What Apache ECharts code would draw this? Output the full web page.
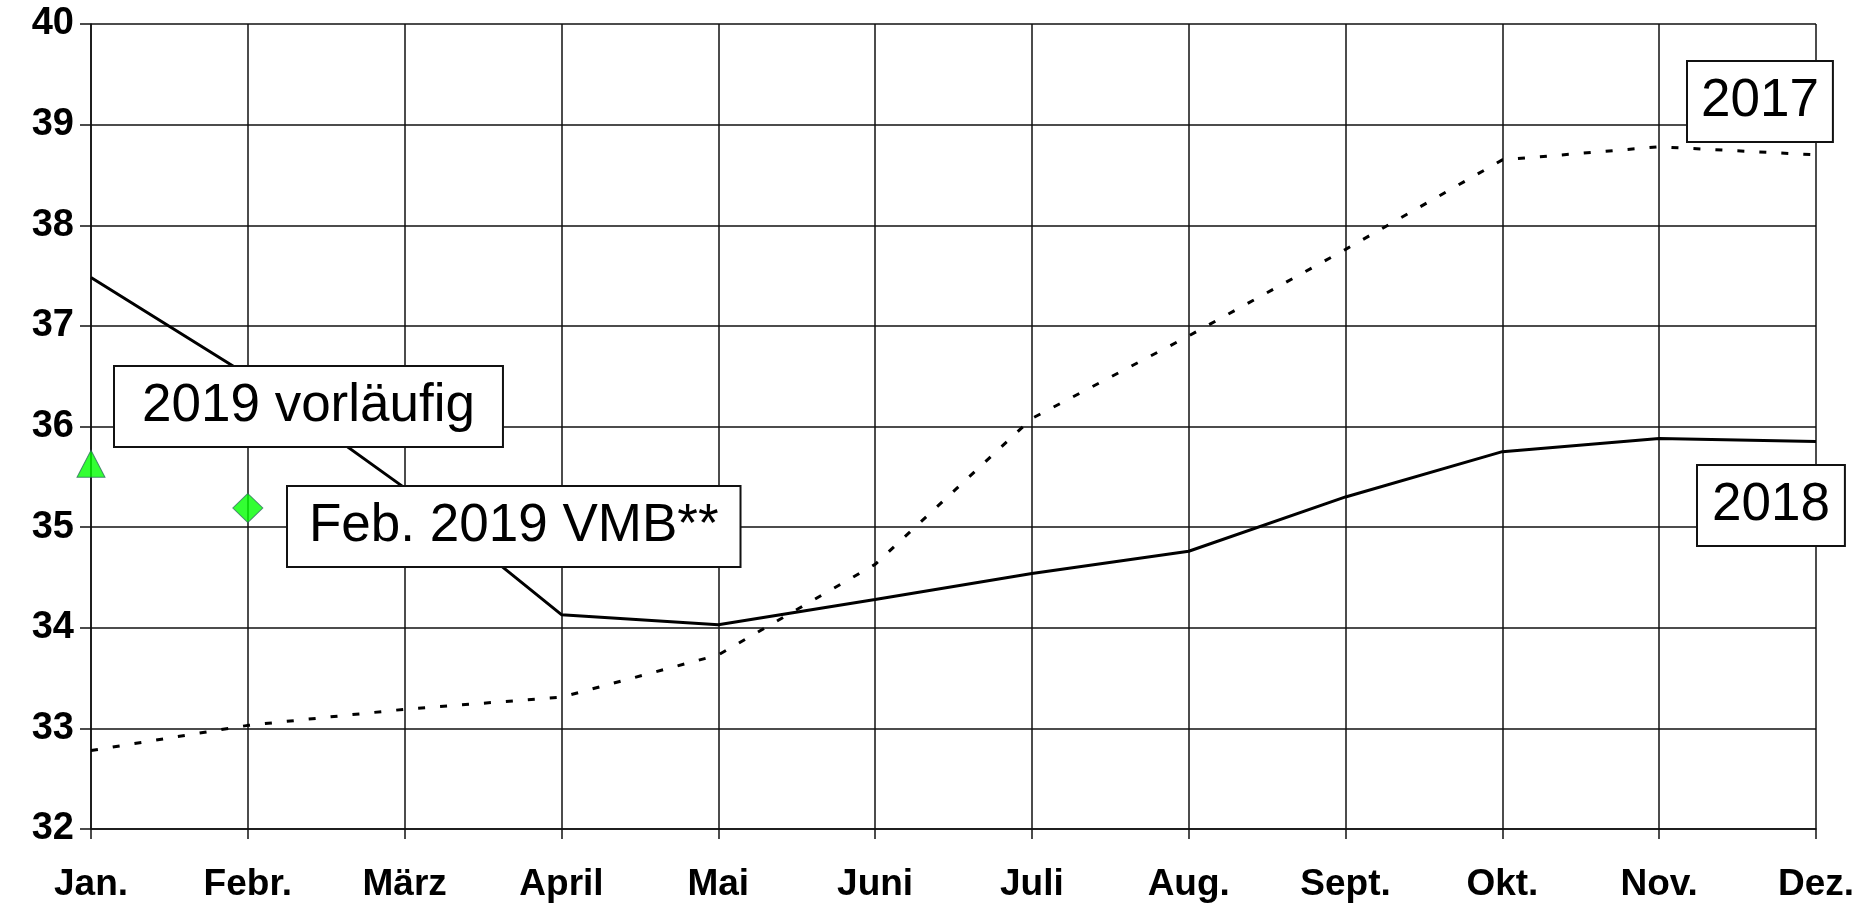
<!DOCTYPE html>
<html>
<head>
<meta charset="utf-8">
<script src="https://cdn.jsdelivr.net/npm/echarts@6/dist/echarts.min.js"></script>
<style>
  html, body { margin: 0; padding: 0; background: #fff; }
  #chart { width: 1870px; height: 904px; }
</style>
</head>
<body>
<div id="chart"></div>
<script>
// months on the x axis
var months = ["Jan.", "Febr.", "März", "April", "Mai", "Juni", "Juli", "Aug.", "Sept.", "Okt.", "Nov.", "Dez."];

// monthly values
var values2017 = [32.78, 33.03, 33.19, 33.31, 33.73, 34.63, 36.08, 36.9, 37.76, 38.65, 38.78, 38.7];
var values2018 = [37.48, 36.51, 35.39, 34.13, 34.03, 34.28, 34.54, 34.76, 35.3, 35.75, 35.88, 35.85];
var values2019Prelim = [35.63];
var values2019Vmb = [null, 35.19];

// annotation texts
var labelPrelim = "2019 vorläufig";
var labelVmb = "Feb. 2019 VMB**";
var label2017 = "2017";
var label2018 = "2018";

var FONT = '"Liberation Sans", Arial, sans-serif';

function boxText(text, left, top, padding) {
  return {
    type: "text",
    left: left,
    top: top,
    z: 100,
    style: {
      text: text,
      font: '53px ' + FONT,
      fill: "#000",
      backgroundColor: "#fff",
      borderColor: "#111",
      borderWidth: 2,
      padding: padding
    }
  };
}

var chart = echarts.init(document.getElementById("chart"));

var option = {
  animation: false,
  backgroundColor: "#fff",
  grid: {
    left: 91,
    right: 54,
    top: 24,
    bottom: 75,
    outerBoundsMode: "none"
  },
  xAxis: {
    type: "category",
    data: months,
    boundaryGap: false,
    axisLine: { show: true, lineStyle: { color: "#111", width: 1.5 } },
    axisTick: { show: true, length: 10, lineStyle: { color: "#111", width: 1.5 } },
    axisLabel: {
      color: "#000",
      fontFamily: FONT,
      fontWeight: "bold",
      fontSize: 37,
      margin: 37,
      interval: 0
    },
    splitLine: { show: true, lineStyle: { color: "#111", width: 1.5 } }
  },
  yAxis: {
    type: "value",
    min: 32,
    max: 40,
    interval: 1,
    axisLine: { show: true, lineStyle: { color: "#111", width: 1.5 } },
    axisTick: { show: true, length: 11, lineStyle: { color: "#111", width: 1.5 } },
    axisLabel: {
      color: "#000",
      fontFamily: FONT,
      fontWeight: "bold",
      fontSize: 38,
      margin: 17
    },
    splitLine: { show: true, lineStyle: { color: "#111", width: 1.5 } }
  },
  series: [
    {
      name: "2017",
      type: "line",
      data: values2017,
      symbol: "none",
      lineStyle: { color: "#000", width: 3, type: [7, 15] },
      z: 3
    },
    {
      name: "2018",
      type: "line",
      data: values2018,
      symbol: "none",
      lineStyle: { color: "#000", width: 3 },
      z: 4
    },
    {
      name: "2019 vorläufig",
      type: "scatter",
      data: values2019Prelim,
      symbol: "triangle",
      symbolSize: [28, 27],
      itemStyle: { color: "#00ff00", borderColor: "#2f6f5f", borderWidth: 1 },
      z: 5
    },
    {
      name: "Feb. 2019 VMB",
      type: "scatter",
      data: values2019Vmb,
      symbol: "diamond",
      symbolSize: [30, 29],
      itemStyle: { color: "#00ff00", borderColor: "#2f6f5f", borderWidth: 1 },
      z: 5
    }
  ],
  graphic: [
    boxText(labelPrelim, 113, 365, [13, 27]),
    boxText(labelVmb, 286, 485, [13, 21]),
    boxText(label2017, 1686, 60, [13, 13]),
    boxText(label2018, 1696, 464, [13, 14])
  ]
};

chart.setOption(option);
</script>
</body>
</html>
